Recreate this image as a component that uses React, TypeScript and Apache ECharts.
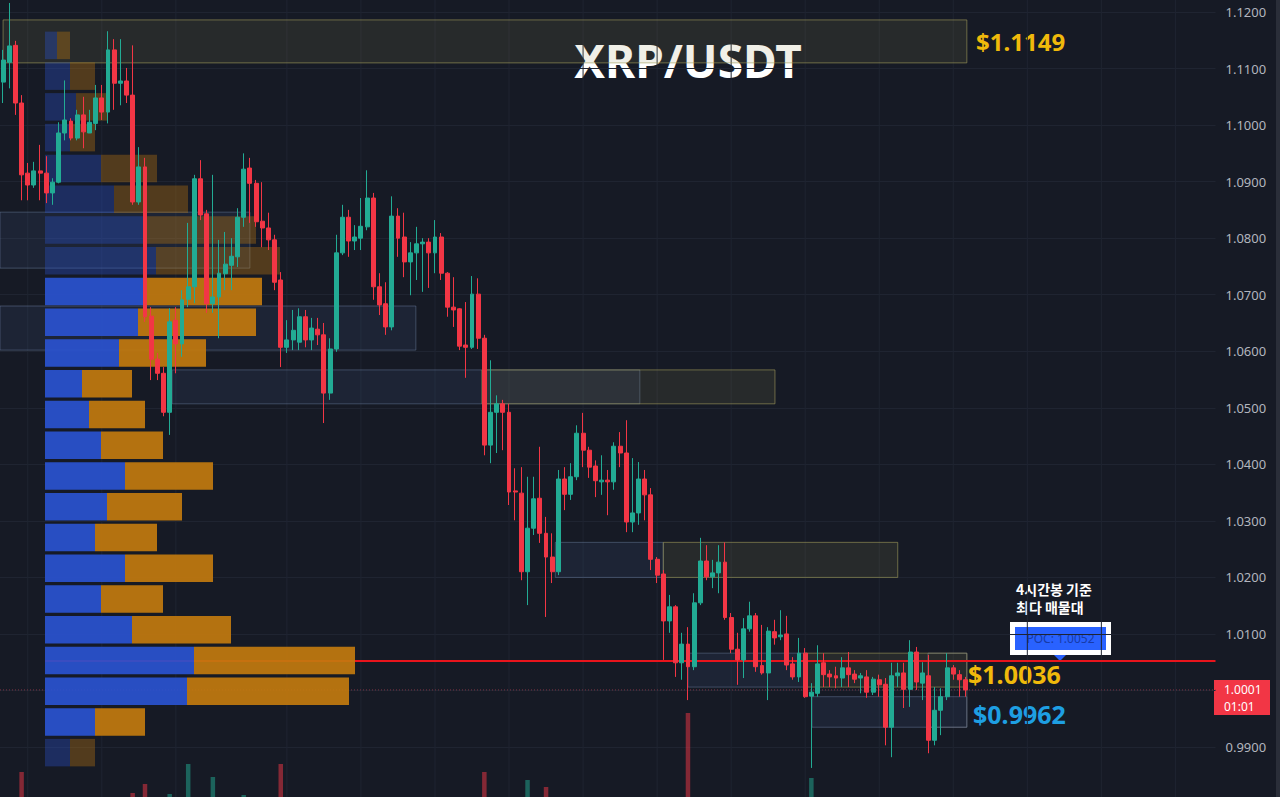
import { useEffect, useRef } from 'react';
import * as echarts from 'echarts';

// ---------- DATA ----------
const SLOT_COUNT = 197; // 4h slots across the visible time axis
const categories = Array.from({ length: SLOT_COUNT }, (_, i) => String(i));

// [open, close, low, high] per 4h candle
const ohlc: number[][] = [
  [1.1076, 1.1115, 1.1039, 1.1133], [1.1111, 1.1140, 1.1065, 1.1216], [1.1141, 1.1039, 1.1018, 1.1149],
  [1.1039, 1.0912, 1.0867, 1.1053], [1.0915, 1.0894, 1.0867, 1.0933], [1.0894, 1.0919, 1.0889, 1.0935],
  [1.0919, 1.0915, 1.0867, 1.0965], [1.0915, 1.0880, 1.0862, 1.0945], [1.0880, 1.0899, 1.0859, 1.0906],
  [1.0899, 1.0986, 1.0897, 1.1005], [1.0986, 1.1009, 1.0973, 1.1079], [1.1007, 1.0977, 1.0973, 1.1012],
  [1.0977, 1.1018, 1.0973, 1.1027], [1.1018, 1.0988, 1.0959, 1.1050], [1.0986, 1.1005, 1.0986, 1.1027],
  [1.1003, 1.1048, 1.0991, 1.1071], [1.1048, 1.1023, 1.1009, 1.1071], [1.1023, 1.1133, 1.1003, 1.1166],
  [1.1133, 1.1074, 1.1027, 1.1152], [1.1074, 1.1078, 1.1035, 1.1152], [1.1078, 1.1053, 1.1039, 1.1101],
  [1.1053, 1.0864, 1.0859, 1.1141], [1.0864, 1.0926, 1.0859, 1.0961], [1.0926, 1.0661, 1.0652, 1.0942],
  [1.0662, 1.0586, 1.0549, 1.0678], [1.0586, 1.0561, 1.0549, 1.0597], [1.0561, 1.0492, 1.0485, 1.0572],
  [1.0492, 1.0652, 1.0452, 1.0676], [1.0655, 1.0613, 1.0561, 1.0678], [1.0613, 1.0691, 1.0590, 1.0708],
  [1.0692, 1.0714, 1.0678, 1.0827], [1.0714, 1.0905, 1.0685, 1.0912], [1.0905, 1.0841, 1.0832, 1.0938],
  [1.0843, 1.0684, 1.0668, 1.0850], [1.0684, 1.0696, 1.0668, 1.0912], [1.0696, 1.0738, 1.0623, 1.0797],
  [1.0737, 1.0754, 1.0708, 1.0811], [1.0752, 1.0768, 1.0708, 1.0800], [1.0767, 1.0837, 1.0749, 1.0853],
  [1.0837, 1.0922, 1.0820, 1.0950], [1.0924, 1.0897, 1.0827, 1.0942], [1.0897, 1.0829, 1.0820, 1.0903],
  [1.0830, 1.0818, 1.0784, 1.0899], [1.0818, 1.0797, 1.0779, 1.0845], [1.0797, 1.0722, 1.0708, 1.0806],
  [1.0726, 1.0607, 1.0572, 1.0740], [1.0607, 1.0620, 1.0597, 1.0655], [1.0620, 1.0637, 1.0602, 1.0673],
  [1.0616, 1.0661, 1.0602, 1.0676], [1.0661, 1.0620, 1.0607, 1.0673], [1.0620, 1.0641, 1.0602, 1.0659],
  [1.0639, 1.0629, 1.0611, 1.0659], [1.0629, 1.0526, 1.0473, 1.0650], [1.0526, 1.0604, 1.0514, 1.0623],
  [1.0604, 1.0774, 1.0599, 1.0806], [1.0774, 1.0837, 1.0770, 1.0859], [1.0837, 1.0795, 1.0767, 1.0850],
  [1.0795, 1.0802, 1.0779, 1.0823], [1.0800, 1.0821, 1.0779, 1.0871], [1.0820, 1.0871, 1.0814, 1.0920],
  [1.0871, 1.0714, 1.0691, 1.0880], [1.0714, 1.0682, 1.0664, 1.0738], [1.0684, 1.0643, 1.0629, 1.0722],
  [1.0643, 1.0839, 1.0637, 1.0874], [1.0839, 1.0800, 1.0767, 1.0853], [1.0802, 1.0758, 1.0731, 1.0845],
  [1.0758, 1.0774, 1.0699, 1.0793], [1.0774, 1.0790, 1.0726, 1.0820], [1.0790, 1.0793, 1.0705, 1.0800],
  [1.0793, 1.0774, 1.0712, 1.0800], [1.0774, 1.0802, 1.0738, 1.0832], [1.0802, 1.0738, 1.0726, 1.0809],
  [1.0738, 1.0678, 1.0661, 1.0740], [1.0678, 1.0673, 1.0643, 1.0731], [1.0675, 1.0609, 1.0602, 1.0676],
  [1.0611, 1.0607, 1.0553, 1.0687], [1.0607, 1.0701, 1.0604, 1.0733], [1.0701, 1.0623, 1.0604, 1.0729],
  [1.0623, 1.0434, 1.0416, 1.0629], [1.0434, 1.0492, 1.0402, 1.0584], [1.0492, 1.0507, 1.0420, 1.0522],
  [1.0507, 1.0492, 1.0425, 1.0514], [1.0492, 1.0351, 1.0328, 1.0507], [1.0353, 1.0351, 1.0301, 1.0393],
  [1.0349, 1.0210, 1.0195, 1.0395], [1.0210, 1.0287, 1.0151, 1.0378], [1.0287, 1.0339, 1.0275, 1.0378],
  [1.0340, 1.0278, 1.0261, 1.0431], [1.0278, 1.0236, 1.0130, 1.0307], [1.0236, 1.0210, 1.0190, 1.0278],
  [1.0210, 1.0374, 1.0204, 1.0390], [1.0374, 1.0347, 1.0319, 1.0395], [1.0347, 1.0378, 1.0337, 1.0402],
  [1.0378, 1.0455, 1.0372, 1.0469], [1.0455, 1.0425, 1.0395, 1.0491], [1.0425, 1.0395, 1.0376, 1.0431],
  [1.0397, 1.0371, 1.0342, 1.0407], [1.0369, 1.0372, 1.0346, 1.0416], [1.0372, 1.0369, 1.0310, 1.0390],
  [1.0369, 1.0432, 1.0355, 1.0439], [1.0432, 1.0420, 1.0395, 1.0457], [1.0420, 1.0298, 1.0280, 1.0478],
  [1.0298, 1.0314, 1.0280, 1.0411], [1.0314, 1.0374, 1.0293, 1.0404], [1.0374, 1.0346, 1.0301, 1.0390],
  [1.0346, 1.0232, 1.0213, 1.0358], [1.0232, 1.0204, 1.0190, 1.0236], [1.0206, 1.0123, 1.0054, 1.0213],
  [1.0123, 1.0148, 1.0102, 1.0169], [1.0148, 1.0049, 1.0024, 1.0151], [1.0049, 1.0082, 1.0019, 1.0102],
  [1.0082, 1.0042, 0.9983, 1.0112], [1.0042, 1.0155, 1.0036, 1.0172], [1.0155, 1.0229, 1.0151, 1.0270],
  [1.0229, 1.0201, 1.0195, 1.0257], [1.0201, 1.0208, 1.0181, 1.0231], [1.0208, 1.0227, 1.0172, 1.0257],
  [1.0227, 1.0129, 1.0125, 1.0262], [1.0129, 1.0073, 1.0066, 1.0137], [1.0073, 1.0054, 1.0010, 1.0102],
  [1.0054, 1.0109, 1.0022, 1.0128], [1.0109, 1.0132, 1.0104, 1.0157], [1.0132, 1.0042, 1.0033, 1.0137],
  [1.0044, 1.0031, 1.0028, 1.0116], [1.0031, 1.0105, 0.9983, 1.0112], [1.0104, 1.0093, 1.0081, 1.0125],
  [1.0095, 1.0098, 1.0089, 1.0142], [1.0100, 1.0045, 1.0036, 1.0132], [1.0047, 1.0024, 1.0019, 1.0059],
  [1.0024, 1.0066, 1.0015, 1.0093], [1.0066, 0.9989, 0.9987, 1.0075], [0.9990, 0.9997, 0.9863, 1.0013],
  [0.9995, 1.0047, 0.9989, 1.0080], [1.0049, 1.0028, 1.0006, 1.0066], [1.0029, 1.0024, 1.0006, 1.0036],
  [1.0026, 1.0022, 1.0004, 1.0042], [1.0022, 1.0040, 1.0006, 1.0059], [1.0040, 1.0028, 1.0006, 1.0068],
  [1.0029, 1.0020, 1.0013, 1.0036], [1.0022, 1.0026, 0.9995, 1.0031], [1.0024, 0.9997, 0.9987, 1.0036],
  [0.9997, 1.0020, 0.9992, 1.0024], [1.0019, 1.0010, 0.9989, 1.0028], [1.0011, 0.9935, 0.9903, 1.0022],
  [0.9935, 1.0026, 0.9882, 1.0049], [1.0026, 1.0031, 1.0006, 1.0049], [1.0031, 1.0002, 0.9969, 1.0049],
  [1.0002, 1.0068, 0.9971, 1.0089], [1.0068, 1.0015, 1.0001, 1.0077], [1.0013, 1.0031, 0.9983, 1.0050],
  [1.0026, 0.9912, 0.9889, 1.0063], [0.9912, 0.9965, 0.9903, 1.0006], [0.9965, 0.9989, 0.9921, 1.0004],
  [0.9989, 1.0040, 0.9983, 1.0066], [1.0040, 1.0029, 1.0019, 1.0045], [1.0028, 1.0019, 0.9989, 1.0036],
  [1.0019, 1.0001, 0.9989, 1.0024],
];

// volume bars that rise into view at the bottom edge (candle index, volume)
const volumeIndex = [3, 21, 23, 27, 30, 34, 39, 45, 78, 85, 88, 111, 131];
const volumeValue = [25, 4, 13, 3, 33, 20, 2, 33, 25, 17, 10, 84, 19];

// volume profile rows (top -> bottom): up (blue) / down (orange) volume
const profileUp = [12, 25, 31, 25, 56, 69, 102, 111, 98, 93, 74, 37, 44, 56, 80, 62, 50, 80, 56, 87, 149, 142, 50, 25];
const profileDown = [13, 25, 32, 25, 56, 74, 109, 124, 119, 118, 87, 50, 56, 62, 88, 75, 62, 88, 62, 99, 161, 162, 50, 25];
const profileInValueArea = [0, 0, 0, 0, 0, 0, 0, 0, 1, 1, 1, 1, 1, 1, 1, 1, 1, 1, 1, 1, 1, 1, 1, 0];
const profileRows = profileUp.map((_, i) => `R${i}`);

// supply / demand zones: start & end (candle index), top & bottom price, kind
const zoneStart = [0, -0.5, -0.5, 27.4, 77.6, 89.5, 107, 111, 130, 131.1, 149.9];
const zoneEnd = [156.2, 40.0, 66.9, 103.2, 125.1, 107, 145, 130.3, 156.2, 156.2, 156.2];
const zoneTop = [1.1186, 1.0846, 1.0680, 1.0567, 1.0567, 1.0262, 1.0262, 1.0066, 1.0066, 0.9989, 1.0066];
const zoneBottom = [1.1110, 1.0747, 1.0602, 1.0507, 1.0507, 1.0200, 1.0200, 1.0006, 1.0006, 0.9935, 0.9935];
const zoneKind = ['olive', 'blue', 'blue', 'blue', 'olive', 'blue', 'olive', 'blue', 'olive', 'blue', 'outline'];

const timeGridIndex = [4, 16, 28, 46, 58, 70, 82, 94, 106, 118, 130, 142, 154, 166, 178, 190];

const POC_PRICE = 1.0052;
const POC_START = 6.8;
const LAST_PRICE = 1.0001;
const LAST_PRICE_TEXT = '1.0001';
const BAR_COUNTDOWN = '01:01';

// ---------- STYLE ----------
const BG = '#161a25';
const UP = '#22ab94';
const DOWN = '#f23645';
const zoneStyles: any = {
  olive: { fill: 'rgba(150,145,85,0.14)', stroke: 'rgba(160,155,90,0.6)' },
  blue: { fill: 'rgba(80,110,160,0.13)', stroke: 'rgba(110,130,165,0.45)' },
  outline: { fill: 'rgba(0,0,0,0)', stroke: 'rgba(140,145,150,0.45)' },
};

export default function App() {
  const ref = useRef<HTMLDivElement>(null);

  useEffect(() => {
    if (!ref.current) return;
    const chart = echarts.init(ref.current, undefined, { renderer: 'svg' });

    const volumeData: any[] = ohlc.map(() => null);
    volumeIndex.forEach((idx, k) => {
      const c = ohlc[idx];
      volumeData[idx] = {
        value: volumeValue[k],
        itemStyle: { color: c[1] >= c[0] ? 'rgba(34,171,148,0.5)' : 'rgba(242,54,69,0.5)' },
      };
    });

    const profileItem = (v: number, i: number) => ({
      value: v,
      itemStyle: { opacity: profileInValueArea[i] ? 0.92 : 0.35 },
    });

    // price-axis labels, except those hidden behind the last-price tag or off the canvas
    const labelValues: number[] = [];
    for (let k = 99; k <= 112; k++) if (k !== 100) labelValues.push(k / 100);

    const option: any = {
      animation: false,
      backgroundColor: BG,
      grid: [
        { left: 0, right: 64.5, top: -44.54, bottom: -6.56, outerBoundsMode: 'none', containLabel: false },
        { left: 0, right: 64.5, top: 697, bottom: 0, outerBoundsMode: 'none', containLabel: false },
        { left: 45, width: 1000, top: 30, bottom: 29, outerBoundsMode: 'none', containLabel: false },
      ],
      xAxis: [
        { type: 'category', gridIndex: 0, data: categories, show: false },
        { type: 'value', gridIndex: 0, min: -0.5, max: SLOT_COUNT - 0.5, show: false },
        { type: 'category', gridIndex: 1, data: categories, show: false },
        { type: 'value', gridIndex: 2, min: 0, max: 1000, show: false },
      ],
      yAxis: [
        {
          type: 'value', gridIndex: 0, position: 'right', min: 0.98, max: 1.13, interval: 0.01,
          axisLine: { show: false }, axisTick: { show: false },
          splitLine: { show: true, lineStyle: { color: '#1f2431', width: 1 } },
          axisLabel: {
            color: '#b2b5be', fontSize: 13, fontFamily: 'Noto Sans', margin: 10,
            customValues: labelValues,
            formatter: (v: number) => v.toFixed(4),
          },
        },
        { type: 'value', gridIndex: 1, min: 0, max: 100, show: false },
        { type: 'category', gridIndex: 2, data: profileRows, inverse: true, show: false },
      ],
      series: [
        {
          type: 'custom', name: 'timegrid', xAxisIndex: 1, yAxisIndex: 0, z: 0, silent: true,
          data: timeGridIndex.map((v) => [v, 1.05]),
          renderItem: (params: any, api: any) => {
            const x = api.coord([api.value(0), 1.05])[0];
            return { type: 'line', shape: { x1: x, y1: 0, x2: x, y2: 797 }, style: { stroke: '#1f2431', lineWidth: 1 } };
          },
        },
        {
          type: 'custom', name: 'zones', xAxisIndex: 1, yAxisIndex: 0, z: 1, silent: true,
          data: zoneStart.map((s, i) => [s, zoneEnd[i], zoneTop[i], zoneBottom[i]]),
          renderItem: (params: any, api: any) => {
            const a = api.coord([api.value(0), api.value(2)]);
            const b = api.coord([api.value(1), api.value(3)]);
            const st = zoneStyles[zoneKind[params.dataIndex]];
            return {
              type: 'rect',
              shape: { x: a[0], y: a[1], width: b[0] - a[0], height: b[1] - a[1] },
              style: { fill: st.fill, stroke: st.stroke, lineWidth: 1 },
            };
          },
        },
        {
          type: 'line', name: 'last', xAxisIndex: 1, yAxisIndex: 0, z: 2, silent: true, symbol: 'none',
          data: [[-0.5, LAST_PRICE], [SLOT_COUNT - 0.5, LAST_PRICE]],
          lineStyle: { color: '#7a3442', width: 1, type: [1, 2] },
        },
        {
          type: 'line', name: 'poc', xAxisIndex: 1, yAxisIndex: 0, z: 2, silent: true, symbol: 'none',
          data: [[POC_START, POC_PRICE], [SLOT_COUNT - 0.5, POC_PRICE]],
          lineStyle: { color: '#e8141c', width: 2 },
        },
        {
          type: 'bar', name: 'profileUp', xAxisIndex: 3, yAxisIndex: 2, stack: 'vp', z: 3,
          barWidth: 27.5, silent: true, itemStyle: { color: '#2a52cf' },
          data: profileUp.map(profileItem),
        },
        {
          type: 'bar', name: 'profileDown', xAxisIndex: 3, yAxisIndex: 2, stack: 'vp', z: 3,
          barWidth: 27.5, silent: true, itemStyle: { color: '#c27a0e' },
          data: profileDown.map(profileItem),
        },
        {
          type: 'bar', name: 'volume', xAxisIndex: 2, yAxisIndex: 1, z: 1, barWidth: 4.5, silent: true,
          data: volumeData,
        },
        {
          type: 'candlestick', name: 'XRP/USDT', xAxisIndex: 0, yAxisIndex: 0, z: 5, barWidth: 4.4,
          data: ohlc,
          itemStyle: { color: UP, color0: DOWN, borderColor: UP, borderColor0: DOWN, borderWidth: 1 },
        },
      ],
      graphic: [
        { type: 'rect', shape: { x: 1276, y: 0, width: 4, height: 797 }, style: { fill: '#2a2e39' } },
        {
          type: 'text', x: 688, y: 60,
          style: { text: 'XRP/USDT', fill: '#ffffff', font: 'bold 46px "Noto Sans"', align: 'center', verticalAlign: 'middle' },
        },
        {
          type: 'text', x: 976, y: 41,
          style: { text: '$1.1149', fill: '#f0b90b', font: 'bold 24px "Noto Sans"', verticalAlign: 'middle' },
        },
        {
          type: 'text', x: 968, y: 674,
          style: { text: '$1.0036', fill: '#f0b90b', font: 'bold 25px "Noto Sans"', verticalAlign: 'middle' },
        },
        {
          type: 'text', x: 973, y: 714,
          style: { text: '$0.9962', fill: '#1e9fe3', font: 'bold 25px "Noto Sans"', verticalAlign: 'middle' },
        },
        {
          type: 'text', x: 1016, y: 589,
          style: { text: '4시간봉 기준', fill: '#ffffff', font: 'bold 14px "Noto Sans CJK KR"', verticalAlign: 'middle' },
        },
        {
          type: 'text', x: 1016, y: 607,
          style: { text: '최다 매물대', fill: '#ffffff', font: 'bold 14px "Noto Sans CJK KR"', verticalAlign: 'middle' },
        },
        { type: 'rect', shape: { x: 1010, y: 622, width: 101, height: 33 }, style: { fill: '#ffffff' } },
        { type: 'rect', shape: { x: 1015, y: 627, width: 91, height: 23 }, style: { fill: '#2962ff' } },
        {
          type: 'text', x: 1060.5, y: 638.5,
          style: { text: 'POC: 1.0052', fill: '#173ba8', font: '12px "Noto Sans"', align: 'center', verticalAlign: 'middle' },
        },
        { type: 'polygon', shape: { points: [[1054, 655], [1066, 655], [1060, 661]] }, style: { fill: '#2962ff' } },
        { type: 'rect', shape: { x: 1214, y: 680, width: 56, height: 35 }, style: { fill: '#f23645' } },
        {
          type: 'text', x: 1224, y: 689,
          style: { text: LAST_PRICE_TEXT, fill: '#ffffff', font: '12px "Noto Sans"', verticalAlign: 'middle' },
        },
        {
          type: 'text', x: 1224, y: 706,
          style: { text: BAR_COUNTDOWN, fill: '#ffffff', font: '12px "Noto Sans"', verticalAlign: 'middle' },
        },
      ],
    };

    chart.setOption(option);
    return () => chart.dispose();
  }, []);

  return <div ref={ref} style={{ position: 'fixed', left: 0, top: 0, width: 1280, height: 797 }} />;
}
